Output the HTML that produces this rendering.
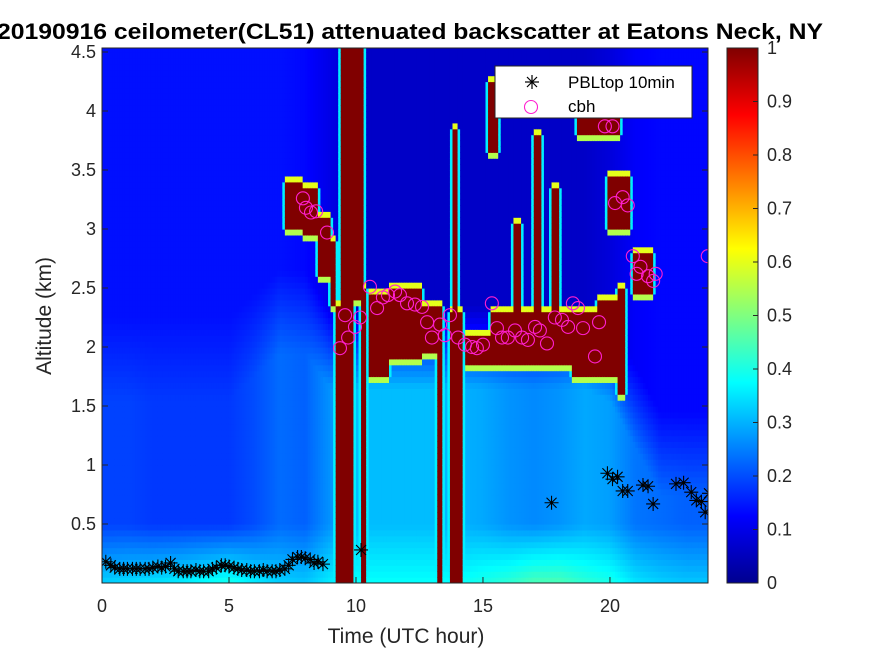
<!DOCTYPE html>
<html><head><meta charset="utf-8">
<style>
html,body{margin:0;padding:0;background:#fff;}
body{width:875px;height:656px;overflow:hidden;font-family:"Liberation Sans",Arial,sans-serif;}
svg text{font-family:"Liberation Sans",Arial,sans-serif;}
</style></head>
<body>
<svg id="chart" width="875" height="656" viewBox="0 0 875 656" xmlns="http://www.w3.org/2000/svg">
<defs>
<linearGradient id="jet" x1="0" y1="1" x2="0" y2="0">
<stop offset="0" stop-color="#00008f"/><stop offset="0.125" stop-color="#0000ff"/>
<stop offset="0.375" stop-color="#00ffff"/><stop offset="0.625" stop-color="#ffff00"/>
<stop offset="0.875" stop-color="#ff0000"/><stop offset="1" stop-color="#800000"/>
</linearGradient>
<clipPath id="plotclip"><rect x="102" y="48" width="606" height="535"/></clipPath>
</defs>
<text x="410" y="39" font-size="22" font-weight="bold" text-anchor="middle" textLength="826" lengthAdjust="spacingAndGlyphs">20190916 ceilometer(CL51) attenuated backscatter at Eatons Neck, NY</text>
<g id="heat" clip-path="url(#plotclip)"></g>
<g id="marks" clip-path="url(#plotclip)"></g>
<rect x="102" y="48" width="606" height="535" fill="none" stroke="#262626" stroke-width="1"/>
<g id="axes"></g>
<text x="406" y="643" font-size="21" text-anchor="middle" fill="#262626">Time (UTC hour)</text>
<text transform="translate(51,316) rotate(-90)" font-size="21" text-anchor="middle" fill="#262626">Altitude (km)</text>
<rect x="727" y="48" width="31" height="535" fill="url(#jet)" stroke="#262626" stroke-width="1"/>
<g id="cbar"></g>
<g>
<rect x="495" y="66" width="197" height="52" fill="#fff" stroke="#262626" stroke-width="1"/>
<g>
<g stroke="#000" stroke-width="1.2"><line x1="532" y1="75" x2="532" y2="89"/><line x1="525" y1="82" x2="539" y2="82"/><line x1="527" y1="77" x2="537" y2="87"/><line x1="527" y1="87" x2="537" y2="77"/></g>
<text x="568" y="88" font-size="17" fill="#000">PBLtop 10min</text></g>
<g>
<circle cx="531" cy="107" r="6.5" fill="none" stroke="#ff1fd0" stroke-width="1.1"/>
<text x="568" y="112" font-size="17" fill="#000">cbh</text></g>
</g>
</svg>
<script>
// ---- data ----
const bgHours = [0,1,2,3,4,5,6,7,8,9,10,11,12,13,14,15,16,17,18,19,20,21,22,23,24];
const bgSurf  = [0.33,0.34,0.35,0.36,0.38,0.4,0.36,0.33,0.32,0.36,0.38,0.38,0.38,0.38,0.38,0.4,0.42,0.45,0.45,0.42,0.4,0.35,0.33,0.32,0.32];
const bgLayer = [0.19,0.19,0.18,0.18,0.18,0.18,0.2,0.23,0.22,0.27,0.31,0.31,0.31,0.31,0.3,0.29,0.27,0.26,0.27,0.29,0.28,0.24,0.23,0.22,0.22];
const bgTop   = [1.9,1.9,1.9,1.9,1.9,1.9,2.1,2.3,2.3,2.0,2.0,2.0,2.0,2.0,2.0,2.0,2.0,2.0,2.0,2.0,1.9,1.5,1.1,1.1,1.1];
const bgFree  = [0.14,0.14,0.14,0.14,0.14,0.14,0.14,0.14,0.13,0.1,0.07,0.07,0.07,0.07,0.07,0.07,0.07,0.07,0.07,0.07,0.09,0.12,0.13,0.13,0.13];
const cloudT0 = [7.2,7.9,8.5,9.0,9.4,9.2,10.2,9.95,10.5,11.3,12.6,13.2,13.75,13.8,14.3,15.3,18.5,19.5,20.3,15.2,16.2,17.0,17.7,18.7,19.9,20.9];
const cloudT1 = [7.9,8.5,9.0,9.2,9.95,9.4,10.45,10.3,11.3,12.6,13.2,13.45,14.2,14.0,15.3,18.5,19.5,20.3,20.6,15.6,16.5,17.35,18.05,20.4,20.8,21.7];
const cloudZ0 = [3.0,2.95,2.6,2.35,0,0,0,2.4,1.75,1.9,1.95,0,0,2.3,1.85,1.85,1.76,1.75,1.62,3.67,2.2,2.2,2.2,3.78,3.0,2.45];
const cloudZ1 = [3.42,3.35,3.1,2.9,4.6,2.35,2.5,4.6,2.45,2.5,2.35,2.35,2.3,3.85,2.1,2.3,2.3,2.4,2.5,4.24,3.05,3.78,3.35,3.95,3.47,2.8];
const pblT = [0.15,0.35,0.5,0.7,0.85,1.0,1.2,1.35,1.5,1.7,1.85,2.0,2.2,2.35,2.5,2.7,2.85,3.0,3.2,3.35,3.5,3.7,3.85,4.0,4.2,4.35,4.5,4.7,4.85,5.0,5.2,5.35,5.5,5.7,5.85,6.0,6.2,6.35,6.5,6.7,6.85,7.0,7.2,7.35,7.5,7.7,7.85,8.0,8.2,8.35,8.5,8.7,10.2,17.7,19.9,20.1,20.3,20.5,20.7,21.3,21.5,21.7,22.6,22.9,23.2,23.4,23.6,23.75,23.9];
const pblZ = [0.18,0.15,0.13,0.12,0.12,0.12,0.12,0.12,0.12,0.12,0.12,0.13,0.14,0.13,0.14,0.17,0.12,0.1,0.1,0.1,0.1,0.11,0.1,0.1,0.1,0.12,0.13,0.15,0.15,0.14,0.13,0.12,0.11,0.11,0.1,0.1,0.1,0.11,0.1,0.1,0.1,0.11,0.12,0.15,0.2,0.22,0.22,0.21,0.2,0.17,0.18,0.16,0.28,0.68,0.93,0.88,0.9,0.78,0.78,0.83,0.82,0.67,0.84,0.85,0.77,0.70,0.69,0.60,0.76];
const cbhT = [7.91,8.03,8.23,8.43,8.86,9.37,9.57,9.69,9.96,10.16,10.55,10.83,11.06,11.26,11.54,11.73,12.01,12.32,12.6,12.8,12.99,13.31,13.5,13.7,14.02,14.29,14.57,14.76,15.0,15.35,15.55,15.75,15.98,16.26,16.54,16.77,17.05,17.24,17.52,17.83,18.11,18.35,18.54,18.74,18.94,19.41,19.57,19.8,20.1,20.2,20.5,20.7,20.9,21.05,21.2,21.5,21.7,21.8,23.85];
const cbhZ = [3.26,3.18,3.14,3.15,2.97,1.99,2.27,2.08,2.17,2.25,2.51,2.33,2.42,2.44,2.47,2.44,2.37,2.36,2.34,2.21,2.08,2.19,2.10,2.27,2.08,2.02,2.0,1.99,2.02,2.37,2.16,2.08,2.08,2.14,2.08,2.06,2.17,2.14,2.03,2.25,2.23,2.17,2.37,2.33,2.16,1.92,2.21,3.87,3.87,3.22,3.27,3.2,2.77,2.62,2.68,2.6,2.56,2.62,2.77];
const xTicks = [0,5,10,15,20];
const yTicks = [0.5,1,1.5,2,2.5,3,3.5,4,4.5];
const cTicks = [0,0.1,0.2,0.3,0.4,0.5,0.6,0.7,0.8,0.9,1];

// ---- scales ----
const X0=102, X1=708, Y0=583, Y1=48, TMAX=23.86, ZMAX=4.534;
const xs = t => X0 + t/TMAX*(X1-X0);
const ys = z => Y0 - z/ZMAX*(Y0-Y1);
const NS='http://www.w3.org/2000/svg';
function jet(v){
  v=Math.max(0,Math.min(1,v));
  const c=(a)=>Math.round(255*Math.max(0,Math.min(1,a)));
  const r=1.5-Math.abs(4*v-3), g=1.5-Math.abs(4*v-2), b=1.5-Math.abs(4*v-1);
  return 'rgb('+c(r)+','+c(g)+','+c(b)+')';
}
function interp(arr,t){
  const i=Math.max(0,Math.min(bgHours.length-2,Math.floor(t)));
  const f=t-bgHours[i];
  return arr[i]+(arr[i+1]-arr[i])*f;
}
// ---- heatmap grid ----
const DT=0.1, DZ=0.05;
const nT=Math.ceil(TMAX/DT), nZ=Math.ceil(ZMAX/DZ);
const grid=[], cl=[];
for(let i=0;i<nT;i++){
  grid.push([]); cl.push([]);
  const t=(i+0.5)*DT;
  const s=interp(bgSurf,t), l=interp(bgLayer,t), top=interp(bgTop,t), f=interp(bgFree,t);
  for(let j=0;j<nZ;j++){
    const z=(j+0.5)*DZ;
    let v;
    if(z<0.5) v=s+(l-s)*(z/0.5);
    else { const w=Math.max(0,Math.min(1,(z-top+0.35)/0.7)); v=l+(f-l)*w; }
    let c=false;
    for(let k=0;k<cloudT0.length;k++){
      if(t>=cloudT0[k]&&t<cloudT1[k]&&z>=cloudZ0[k]&&z<cloudZ1[k]){c=true;break;}
    }
    grid[i].push(v); cl[i].push(c);
  }
}
const heat=document.getElementById('heat');
for(let i=0;i<nT;i++){
  for(let j=0;j<nZ;j++){
    let v=grid[i][j];
    if(cl[i][j]) v=1;
    else {
      const side=(i>0&&cl[i-1][j])||(i<nT-1&&cl[i+1][j]);
      const below=(j>0&&cl[i][j-1]);
      const above=(j<nZ-1&&cl[i][j+1]);
      if(below) v=Math.max(v,0.6);
      else if(above) v=Math.max(v,0.55);
      else if(side) v=Math.max(v,0.36);
    }
    const r=document.createElementNS(NS,'rect');
    
    
    const xa=xs(i*DT), xb=xs((i+1)*DT), ya=ys((j+1)*DZ), yb=ys(j*DZ);
    r.setAttribute('x',xa.toFixed(2)); r.setAttribute('y',ya.toFixed(2));
    r.setAttribute('width',(xb-xa+0.6).toFixed(2)); r.setAttribute('height',(yb-ya+0.6).toFixed(2));
    r.setAttribute('fill',jet(v));
    heat.appendChild(r);
  }
}
// ---- markers ----
const marks=document.getElementById('marks');
for(let k=0;k<cbhT.length;k++){
  const c=document.createElementNS(NS,'circle');
  
  
  c.setAttribute('cx',xs(cbhT[k])); c.setAttribute('cy',ys(cbhZ[k]));
  c.setAttribute('r','6.5'); c.setAttribute('fill','none');
  c.setAttribute('stroke','#ff1fd0'); c.setAttribute('stroke-width','1.1');
  marks.appendChild(c);
}
for(let k=0;k<pblT.length;k++){
  const g=document.createElementNS(NS,'path');
  
  
  const x=xs(pblT[k]), y=ys(pblZ[k]);
  g.setAttribute('d','M'+x+' '+(y-7)+'V'+(y+7)+'M'+(x-7)+' '+y+'H'+(x+7)+'M'+(x-5)+' '+(y-5)+'L'+(x+5)+' '+(y+5)+'M'+(x-5)+' '+(y+5)+'L'+(x+5)+' '+(y-5));
  g.setAttribute('stroke','#000'); g.setAttribute('stroke-width','1.1'); g.setAttribute('fill','none');
  marks.appendChild(g);
}
// ---- axes ----
const axes=document.getElementById('axes');
xTicks.forEach(t=>{
  const l=document.createElementNS(NS,'line');
   
  l.setAttribute('x1',xs(t)); l.setAttribute('x2',xs(t)); l.setAttribute('y1',Y0); l.setAttribute('y2',Y0-6);
  l.setAttribute('stroke','#262626'); axes.appendChild(l);
  const tx=document.createElementNS(NS,'text');
   
  tx.setAttribute('x',xs(t)); tx.setAttribute('y',612); tx.setAttribute('font-size','18');
  tx.setAttribute('text-anchor','middle'); tx.setAttribute('fill','#262626'); tx.textContent=t;
  axes.appendChild(tx);
});
yTicks.forEach(z=>{
  const l=document.createElementNS(NS,'line');
   
  l.setAttribute('x1',X0); l.setAttribute('x2',X0+6); l.setAttribute('y1',ys(z)); l.setAttribute('y2',ys(z));
  l.setAttribute('stroke','#262626'); axes.appendChild(l);
  const l2=document.createElementNS(NS,'line');
   
  l2.setAttribute('x1',X1); l2.setAttribute('x2',X1-6); l2.setAttribute('y1',ys(z)); l2.setAttribute('y2',ys(z));
  l2.setAttribute('stroke','#262626'); axes.appendChild(l2);
  const tx=document.createElementNS(NS,'text');
   
  tx.setAttribute('x',X0-6); tx.setAttribute('y',ys(z)+6); tx.setAttribute('font-size','18');
  tx.setAttribute('text-anchor','end'); tx.setAttribute('fill','#262626'); tx.textContent=z;
  axes.appendChild(tx);
});
const cbar=document.getElementById('cbar');
cTicks.forEach(v=>{
  const y=583-v*535;
  const l=document.createElementNS(NS,'line');
   
  l.setAttribute('x1',753); l.setAttribute('x2',758); l.setAttribute('y1',y); l.setAttribute('y2',y);
  l.setAttribute('stroke','#262626'); cbar.appendChild(l);
  const tx=document.createElementNS(NS,'text');
   
  tx.setAttribute('x',767); tx.setAttribute('y',y+6); tx.setAttribute('font-size','18');
  tx.setAttribute('fill','#262626'); tx.textContent=v;
  cbar.appendChild(tx);
});
</script>
</body></html>
